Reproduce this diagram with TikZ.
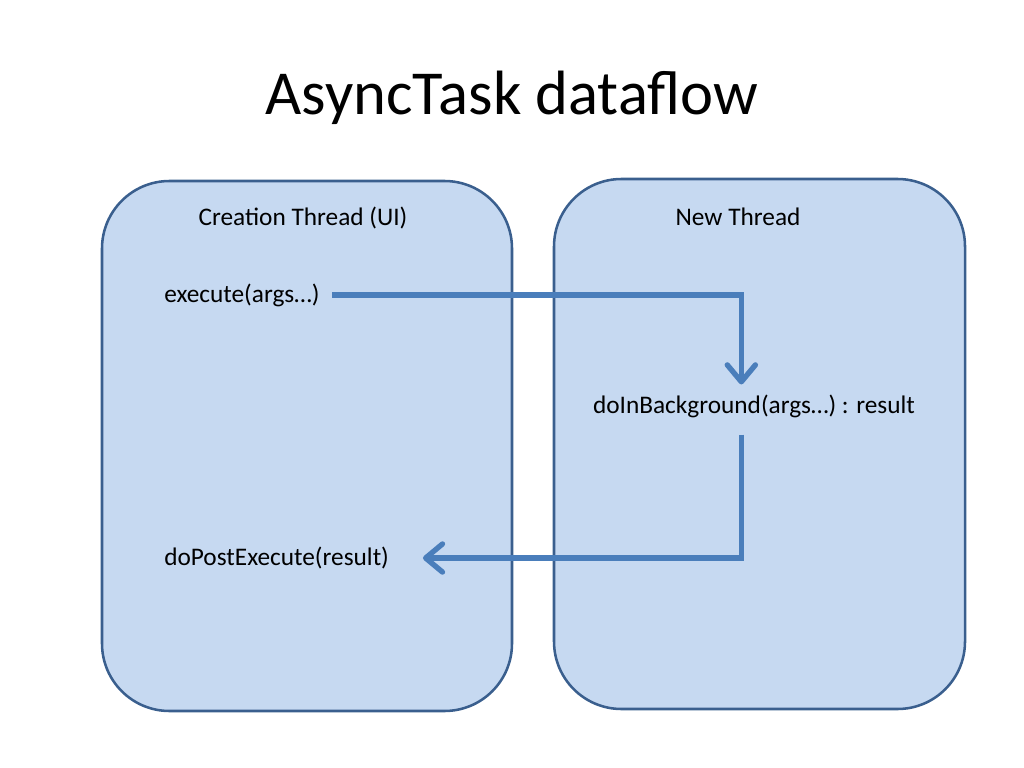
\documentclass[tikz,border=0pt]{standalone}
\usepackage{fontspec}
\setmainfont{Carlito}
\usepackage{xcolor}
\usetikzlibrary{arrows.meta,positioning,calc}
\definecolor{boxfill}{HTML}{C6D9F1}
\definecolor{boxline}{HTML}{3A5F8E}
\definecolor{flowblue}{HTML}{4A7EBB}

\begin{document}
\begin{tikzpicture}[x=0.025cm,y=-0.025cm,
    thread/.style={draw=boxline,fill=boxfill,line width=1.8pt,rounded corners=48pt},
    label/.style={inner sep=0pt,font=\fontsize{18}{22}\selectfont},
    flow/.style={draw=flowblue,line width=3.8pt,
      -{Straight Barb[length=12pt,width=20pt,line cap=round,line join=round]}}]
            \useasboundingbox (0,0) rectangle (1024,768);
            \node (title) at (512,98) {\fontsize{44.5}{52}\selectfont AsyncTask dataflow};
            \draw[thread] (102,181) rectangle (512,711);
            \draw[thread] (554,179) rectangle (965,709);
            \node[label] (ui) at (303,218) {Creation Thread (UI)};
            \node[label] (new) at (738,217) {New Thread};
            \node[label,anchor=west] (exec) at (164,295) {execute(args\dots)};
            \node[label] (bg) at (754,406) {doInBackground(args\dots) : result};
            \node[label,anchor=west] (post) at (164,558) {doPostExecute(result)};
            \draw[flow,shorten <=9pt,shorten >=7pt] (exec.east) -| ([xshift=-9pt]bg.north);
            \draw[flow,shorten <=12pt,shorten >=24pt] ([xshift=-9pt]bg.south) |- (post.east);
        \end{tikzpicture}
\end{document}
